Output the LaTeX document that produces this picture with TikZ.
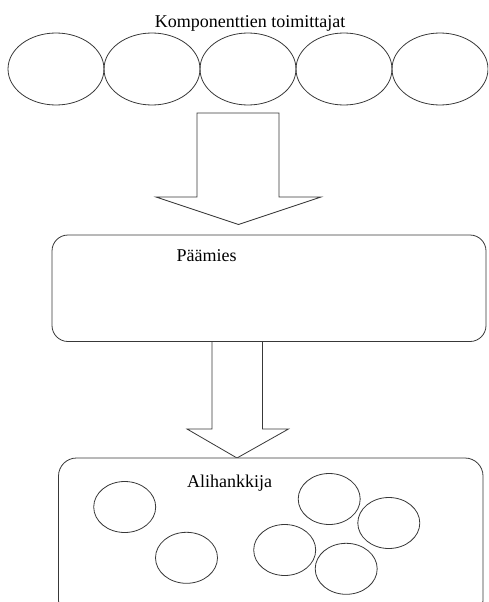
\documentclass[tikz,border=0pt]{standalone}
\usepackage{fontspec}
\setmainfont{Liberation Serif}
\usetikzlibrary{shapes.geometric}

\tikzset{
  ink/.style={draw=black!78, line width=0.8pt},
  supplier/.style={ink, ellipse, inner sep=0pt, minimum width=96pt, minimum height=72pt},
  firm/.style={ink, ellipse, inner sep=0pt, minimum width=62pt, minimum height=51pt},
  panel/.style={ink, rectangle, inner sep=0pt, fill=white},
  blockarrow/.style={ink, fill=white, line join=miter},
  label/.style={inner sep=0pt, anchor=base, font=\fontsize{18}{21}\selectfont}
}

\begin{document}
\begin{tikzpicture}[x=1pt, y=-1pt]
  \useasboundingbox (0,0) rectangle (488,602);
  \clip (0,0) rectangle (488,602);

  % component suppliers in a row
  \node[label] (title) at (250,27.5) {Komponenttien toimittajat};
  \foreach \i/\cx in {1/56,2/152,3/248,4/344,5/440}
    \node[supplier] (s\i) at (\cx,69) {};

  % block arrow from the principal down to the subcontractors
  % (drawn first so that the box outline covers its top edge)
  \draw[blockarrow] (212,338) -- (262.5,338) -- (262.5,429) -- (288.5,429)
    -- (237,458) -- (187,429) -- (212,429) -- cycle;

  % principal
  \node[panel, rounded corners=16pt, minimum width=434pt, minimum height=106.5pt]
    (paamies) at (269,288.25) {};
  \node[label] (paamiestxt) at (206.5,261) {Päämies};

  % subcontractors (box runs past the lower edge)
  \node[panel, rounded corners=18pt, minimum width=424.5pt, minimum height=160pt]
    (ali) at (270.75,538) {};
  \node[label] (alitxt) at (229.5,487.5) {Alihankkija};

  \node[firm] (f1) at (124.7,507) {};
  \node[firm] (f2) at (186.5,557.8) {};
  \node[firm] (f3) at (329.2,499) {};
  \node[firm] (f4) at (388.8,523) {};
  \node[firm] (f5) at (284.7,550) {};
  \node[firm] (f6) at (346.2,568.8) {};

  % block arrow from the suppliers down to the principal
  \draw[blockarrow] (197,113) -- (279,113) -- (279,197) -- (321,197)
    -- (238.5,224.5) -- (156,197) -- (197,197) -- cycle;
\end{tikzpicture}
\end{document}
